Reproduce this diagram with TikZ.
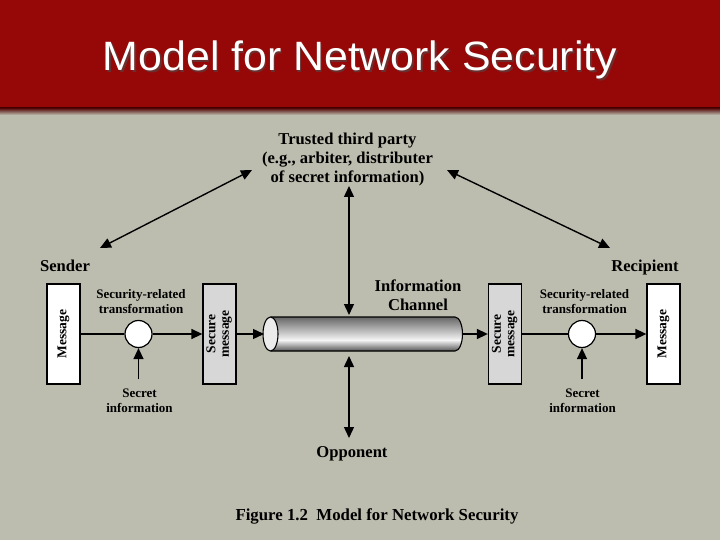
\documentclass[tikz,border=0pt]{standalone}
\usepackage{fontspec}
\setmainfont{Liberation Serif}
\newfontfamily\titlefont{Liberation Sans}
\usepackage{graphicx}
\usetikzlibrary{arrows.meta,calc}
\definecolor{bgcol}{RGB}{189,189,175}
\definecolor{barred}{RGB}{150,8,8}
\definecolor{boxgrey}{RGB}{215,215,215}
\begin{document}
\begin{tikzpicture}[x=1pt,y=-1pt,
  lbl/.style={font=\bfseries\fontsize{16.6}{19}\selectfont, align=center, inner sep=0pt},
  small/.style={font=\bfseries\fontsize{13}{15.5}\selectfont, align=center, inner sep=0pt},
  msgbox/.style={draw, line width=1.3pt, fill=white, minimum width=33pt, minimum height=100pt, inner sep=0pt, font=\bfseries\fontsize{13.5}{13.5}\selectfont},
  secbox/.style={msgbox, fill=boxgrey},
  xform/.style={circle, draw, line width=1.2pt, fill=white, minimum size=27pt, inner sep=0pt},
  conn/.style={line width=1.4pt},
  arr/.style={conn, -{Triangle[length=11pt,width=10pt]}},
  darr/.style={conn, {Triangle[length=11pt,width=10pt]}-{Triangle[length=11pt,width=10pt]}},
  ttl/.style={anchor=base, font=\titlefont\fontsize{41}{44}\selectfont}]
\useasboundingbox (0,0) rectangle (720,540);
% background and title bar
\fill[bgcol] (0,0) rectangle (720,540);
\fill[barred] (0,0) rectangle (720,108);
\shade[top color=barred!55!black, bottom color=bgcol] (0,108) rectangle (720,115);
\node[ttl, text=black!70, opacity=0.6] at (361.5,72.5) {\scalebox{1.045}[1]{Model for Network Security}};
\node[ttl, text=white] (title) at (360,71) {\scalebox{1.045}[1]{Model for Network Security}};

% labels
\node[lbl] (ttp) at (347.5,160) {Trusted third party\\(e.g., arbiter, distributer\\of secret information)};
\node[lbl, anchor=base] (sender) at (65,271) {Sender};
\node[lbl, anchor=base] (recipient) at (645,271) {Recipient};
\node[lbl] (chan) at (418,295) {Information\\Channel};
\node[lbl, anchor=base] (opp) at (352,457) {Opponent};
\node[lbl, anchor=base, font=\bfseries\fontsize{16.8}{19}\selectfont] (cap) at (377,520) {Figure 1.2\ \ Model for Network Security};

% sender side
\node[msgbox] (m1) at (63.5,334) {\rotatebox{90}{Message}};
\node[secbox] (s1) at (219.5,334) {\rotatebox{90}{\begin{tabular}{@{}c@{}}Secure\\message\end{tabular}}};
\node[xform] (c1) at (138.5,334) {};
\node[small] (sr1) at (141,301.5) {Security-related\\transformation};
\node[small] (si1) at (139.5,401) {Secret\\information};

% recipient side
\node[secbox] (s2) at (505,334) {\rotatebox{90}{\begin{tabular}{@{}c@{}}Secure\\message\end{tabular}}};
\node[msgbox] (m2) at (663.5,334) {\rotatebox{90}{Message}};
\node[xform] (c2) at (582,334) {};
\node[small] (sr2) at (584.5,301.5) {Security-related\\transformation};
\node[small] (si2) at (582.5,401) {Secret\\information};

% channel cylinder
\begin{scope}
  \clip (270.5,317) -- (455,317) arc[start angle=-90,end angle=90,x radius=7.5,y radius=17] -- (270.5,351) -- cycle;
  \shade[top color=black!62, bottom color=white!96!black] (260,316) rectangle (470,340);
  \shade[top color=white!96!black, bottom color=black!72] (260,340) rectangle (470,352);
\end{scope}
\draw[line width=1.1pt] (270.5,317) -- (455,317) arc[start angle=-90,end angle=90,x radius=7.5,y radius=17] -- (270.5,351);
\draw[line width=1.1pt, fill=white!92!black] (270.5,334) ellipse[x radius=7.5, y radius=17];
\coordinate (cylL) at (264,334);
\coordinate (cylR) at (462.5,334);
\coordinate (chTop) at (349,315);
\coordinate (chBot) at (349,356);

% connectors
\draw[conn] (m1) -- (c1);
\draw[arr] (c1) -- (s1);
\coordinate (k1) at (138.5,379);
\draw[arr] (k1) -- (c1);
\draw[arr] (s1) -- (cylL);
\draw[arr] (cylR) -- (s2);
\draw[conn] (s2) -- (c2);
\draw[arr] (c2) -- (m2);
\coordinate (k2) at (582,379);
\draw[arr] (k2) -- (c2);

\coordinate (ttpL) at (252,170);
\coordinate (sendTip) at (100,248);
\coordinate (ttpR) at (447,170);
\coordinate (recTip) at (610,248);
\coordinate (ttpB) at (349,186);
\coordinate (oppT) at (349,438);
\draw[darr] (sendTip) -- (ttpL);
\draw[darr] (ttpR) -- (recTip);
\draw[darr] (ttpB) -- (chTop);
\draw[darr] (chBot) -- (oppT);
\end{tikzpicture}
\end{document}
